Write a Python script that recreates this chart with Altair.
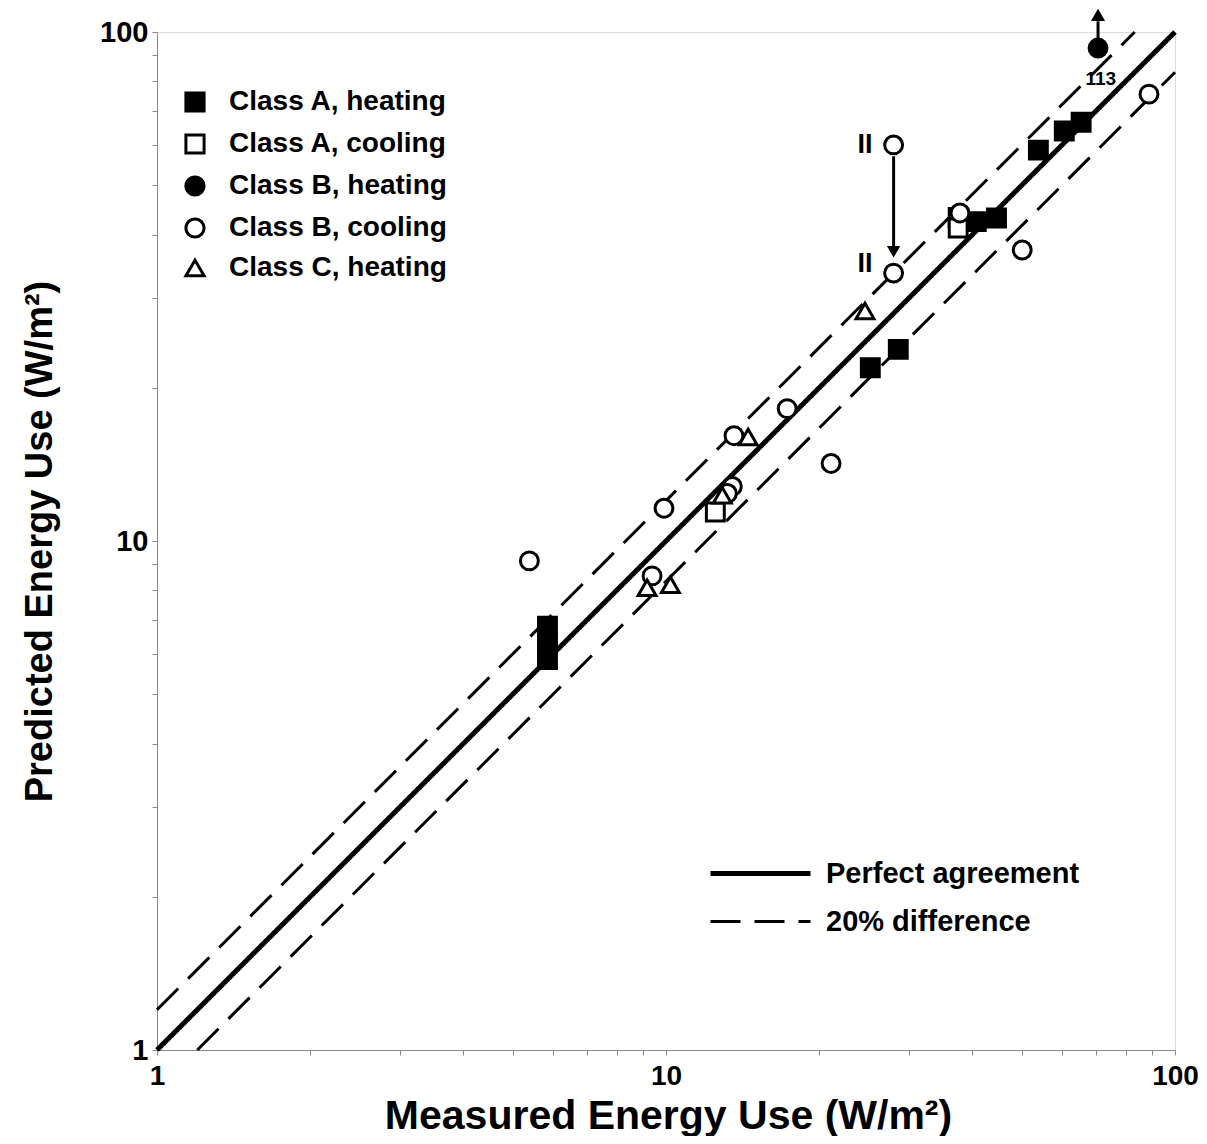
import altair as alt
import pandas as pd

FONT = "Liberation Sans"

series_names = ["Class A, heating", "Class A, cooling", "Class B, heating",
                "Class B, cooling", "Class C, heating"]

a_heat_x = [5.85, 5.85, 5.85, 25.2, 28.6, 40.7, 44.6, 53.9, 60.6, 65.4]
a_heat_y = [6.8, 6.3, 5.85, 21.9, 23.8, 42.4, 43.1, 58.6, 63.9, 66.5]
a_cool_x = [12.5, 37.5, 37.5]
a_cool_y = [11.4, 43.2, 41.2]
b_heat_x = [70.6]
b_heat_y = [93.0]  # actual value 113, drawn at the top with an arrow
b_cool_x = [5.39, 9.39, 9.91, 13.6, 13.5, 13.2, 17.3, 21.1, 28.0, 28.0, 37.8, 50.1, 88.9]
b_cool_y = [9.14, 8.54, 11.6, 16.1, 12.8, 12.4, 18.2, 14.2, 60.0, 33.6, 44.1, 37.3, 75.5]
c_heat_x = [9.18, 10.2, 12.9, 14.5, 24.6]
c_heat_y = [8.09, 8.2, 12.3, 16.0, 28.3]

# reference lines: perfect agreement and +/-20 %
line_names = ["Perfect agreement", "20% difference"]
line_id = ["perfect", "perfect", "upper", "upper", "lower", "lower"]
line_type = ["Perfect agreement", "Perfect agreement", "20% difference",
             "20% difference", "20% difference", "20% difference"]
line_x = [1, 100, 1, 83.33, 1.2, 100]
line_y = [1, 100, 1.2, 100, 1, 83.33]

# arrows (shifted point and off-scale point)
arrow_x = [28.0, 70.6]
arrow_y1 = [57.0, 96.0]
arrow_y2 = [37.5, 105.0]
down_head_x = [28.0]
down_head_y = [37.0]
up_head_x = [70.6]
up_head_y = [108.0]

note_x = [71.5, 24.6, 24.6]
note_y = [81.0, 60.0, 35.0]
note_text = ["113", "II", "II"]
note_size = [19, 27, 27]

tick_vals = [1, 2, 3, 4, 5, 6, 7, 8, 9, 10, 20, 30, 40, 50, 60, 70, 80, 90, 100]

rows = []
for name, xs, ys in zip(series_names,
                        [a_heat_x, a_cool_x, b_heat_x, b_cool_x, c_heat_x],
                        [a_heat_y, a_cool_y, b_heat_y, b_cool_y, c_heat_y]):
    for x, y in zip(xs, ys):
        rows.append({"x": x, "y": y, "series": name})
pts = pd.DataFrame(rows)
lines = pd.DataFrame({"x": line_x, "y": line_y, "line": line_id, "type": line_type})
arrows = pd.DataFrame({"x": arrow_x, "y": arrow_y1, "y2": arrow_y2})
down_heads = pd.DataFrame({"x": down_head_x, "y": down_head_y})
up_heads = pd.DataFrame({"x": up_head_x, "y": up_head_y})
notes = pd.DataFrame({"x": note_x, "y": note_y, "text": note_text, "size": note_size})

label_expr = "indexof([1,10,100], datum.value) >= 0 ? format(datum.value, 'd') : ''"

xscale = alt.Scale(type="log", domain=[1, 100], nice=False)
yscale = alt.Scale(type="log", domain=[1, 100], nice=False)

x_axis = alt.Axis(values=tick_vals, labelExpr=label_expr, grid=False,
                  title="Measured Energy Use (W/m²)", titleFontSize=41,
                  titleX=511, titleY=78, titleAlign="center",
                  titleBaseline="alphabetic", labelFontSize=28,
                  labelFontWeight="bold", labelFont=FONT,
                  labelPadding=7, labelOverlap=False, labelFlush=False)
y_axis = alt.Axis(values=tick_vals, labelExpr=label_expr, grid=False,
                  title="Predicted Energy Use (W/m²)", titleFontSize=38,
                  titleX=-117, titleY=509, titleAngle=-90, titleAlign="center",
                  titleBaseline="middle", labelFontSize=29, labelPadding=4,
                  labelFontWeight="bold", labelFont=FONT,
                  labelOverlap=False, labelFlush=False)

line_layer = alt.Chart(lines).mark_line(color="black").encode(
    x=alt.X("x:Q", scale=xscale, axis=x_axis),
    y=alt.Y("y:Q", scale=yscale, axis=y_axis),
    detail="line:N",
    strokeDash=alt.StrokeDash(
        "type:N",
        scale=alt.Scale(domain=line_names, range=[[1, 0], [30, 14]]),
        legend=alt.Legend(title=None, orient="none", legendX=581, legendY=819,
                          symbolType="M-2.5,0H2.5", symbolSize=1600,
                          symbolStrokeWidth=4, symbolStrokeColor="black",
                          labelFontSize=29, labelFont=FONT, labelFontWeight="bold",
                          labelLimit=0, labelOffset=43, rowPadding=11)),
    strokeWidth=alt.StrokeWidth(
        "type:N", scale=alt.Scale(domain=line_names, range=[5, 3]), legend=None),
)

legend_pts = alt.Legend(title=None, orient="none", legendX=24, legendY=56,
                        labelFontSize=28, labelFont=FONT, labelFontWeight="bold",
                        labelLimit=0, symbolSize=330, symbolStrokeWidth=3,
                        symbolStrokeColor="black", labelOffset=20, rowPadding=10)

point_layer = alt.Chart(pts).mark_point(
    filled=False, color="black", strokeWidth=3, opacity=1, size=320
).encode(
    x="x:Q", y="y:Q",
    shape=alt.Shape("series:N", scale=alt.Scale(
        domain=series_names,
        range=["square", "square", "circle", "circle", "triangle-up"]),
        legend=legend_pts),
    fill=alt.Fill("series:N", scale=alt.Scale(
        domain=series_names,
        range=["black", "white", "black", "white", "white"]),
        legend=legend_pts),
    stroke=alt.Stroke("series:N", scale=alt.Scale(
        domain=series_names,
        range=["black", "black", "black", "black", "black"]),
        legend=legend_pts),
)

arrow_layer = alt.Chart(arrows).mark_rule(color="black", strokeWidth=3).encode(
    x="x:Q", y="y:Q", y2="y2:Q")

down_head_layer = alt.Chart(down_heads).mark_point(
    shape="triangle-down", filled=True, color="black", opacity=1, size=180
).encode(x="x:Q", y="y:Q")

up_head_layer = alt.Chart(up_heads).mark_point(
    shape="triangle-up", filled=True, color="black", opacity=1, size=200
).encode(x="x:Q", y="y:Q")

note_layer = alt.Chart(notes).mark_text(
    font=FONT, fontWeight="bold", color="black").encode(
    x="x:Q", y="y:Q", text="text:N",
    size=alt.Size("size:Q", scale=None, legend=None))

chart = alt.layer(
    line_layer, arrow_layer, down_head_layer, up_head_layer, point_layer, note_layer
).properties(
    width=1018, height=1018,
    autosize=alt.AutoSizeParams(type="none"),
    padding={"left": 149, "top": 24, "right": 24, "bottom": 86},
).configure_view(
    stroke="black", strokeWidth=4
).configure_axis(
    domainColor="black", domainWidth=4, tickColor="black", tickWidth=3,
    tickSize=10, labelColor="black", titleColor="black",
    labelFont=FONT, titleFont=FONT, labelFontWeight="bold",
    titleFontWeight="bold",
).configure(background="white")

chart.save("out.html", embed_options={"renderer": "svg", "actions": False})
